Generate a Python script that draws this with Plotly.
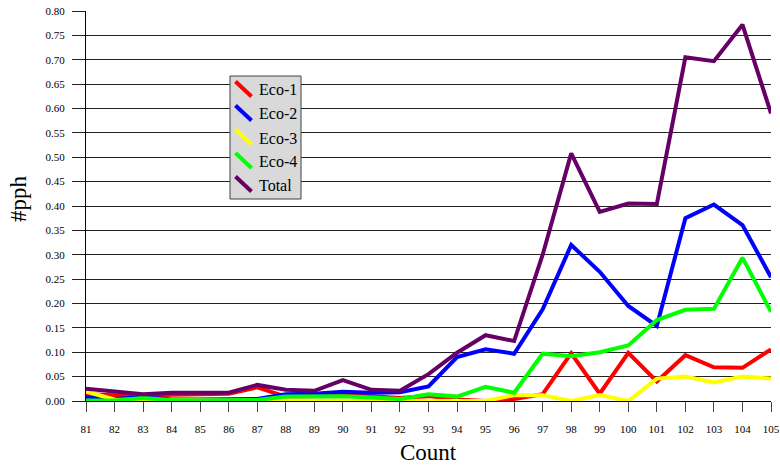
import plotly.graph_objects as go

# Count index on the x axis
count = [81, 82, 83, 84, 85, 86, 87, 88, 89, 90, 91, 92, 93,
         94, 95, 96, 97, 98, 99, 100, 101, 102, 103, 104, 105]

# #pph per ecosystem and in total
eco1 = [0.014, 0.012, 0.010, 0.013, 0.014, 0.015, 0.028, 0.009, 0.010, 0.014, 0.010, 0.006, 0.010,
        0.003, 0.000, 0.004, 0.014, 0.098, 0.015, 0.099, 0.040, 0.094, 0.069, 0.068, 0.106]
eco2 = [0.007, 0.004, 0.008, 0.003, 0.003, 0.003, 0.004, 0.014, 0.015, 0.019, 0.017, 0.018, 0.030,
        0.090, 0.106, 0.097, 0.188, 0.320, 0.265, 0.195, 0.154, 0.375, 0.403, 0.361, 0.254]
eco3 = [0.019, 0.003, 0.002, 0.001, 0.001, 0.001, 0.001, 0.001, 0.001, 0.001, 0.001, 0.001, 0.002,
        0.000, 0.000, 0.012, 0.012, 0.000, 0.012, 0.000, 0.046, 0.050, 0.038, 0.050, 0.046]
eco4 = [0.001, 0.001, 0.006, 0.002, 0.001, 0.002, 0.002, 0.009, 0.010, 0.010, 0.007, 0.004, 0.014,
        0.009, 0.029, 0.017, 0.097, 0.092, 0.100, 0.114, 0.166, 0.187, 0.189, 0.294, 0.183]
total = [0.025, 0.020, 0.014, 0.017, 0.016, 0.017, 0.033, 0.023, 0.021, 0.043, 0.023, 0.021, 0.055,
         0.099, 0.135, 0.123, 0.300, 0.508, 0.388, 0.405, 0.404, 0.705, 0.697, 0.772, 0.590]

series_names = ["Eco-1", "Eco-2", "Eco-3", "Eco-4", "Total"]
series_values = [eco1, eco2, eco3, eco4, total]
series_colors = ["#FF0000", "#0000FF", "#FFFF00", "#00FF00", "#660066"]

FONT = "Liberation Serif, Times New Roman, serif"

W, H = 780, 468
L, R, T, B = 86, 9, 11, 67
PW, PH = W - L - R, H - T - B


def px_x(x):
    return (x - L) / PW


def px_y(y):
    return (H - B - y) / PH


fig = go.Figure()
for name, vals, col in zip(series_names, series_values, series_colors):
    fig.add_trace(go.Scatter(
        x=count, y=vals, name=name, mode="lines",
        line=dict(color=col, width=4), showlegend=False,
    ))

# Boxed legend with slanted line keys
shapes = [dict(type="rect", xref="paper", yref="paper",
               x0=px_x(230), x1=px_x(301), y0=px_y(199), y1=px_y(76),
               fillcolor="#D9D9D9", line=dict(color="#404040", width=1), layer="above")]
annotations = []
row_y = [89, 113, 137, 160.5, 184]
for name, col, yc in zip(series_names, series_colors, row_y):
    shapes.append(dict(type="line", xref="paper", yref="paper",
                       x0=px_x(235.5), x1=px_x(251.5), y0=px_y(yc - 7.5), y1=px_y(yc + 7.5),
                       line=dict(color=col, width=4), layer="above"))
    annotations.append(dict(text=name, xref="paper", yref="paper",
                            x=px_x(256.5), y=px_y(yc + 1), xanchor="left", yanchor="middle",
                            showarrow=False, font=dict(family=FONT, size=16, color="#000")))

annotations.append(dict(text="Count", xref="paper", yref="paper",
                        x=px_x(428), y=px_y(452), xanchor="center", yanchor="middle",
                        showarrow=False, font=dict(family=FONT, size=23, color="#000")))
annotations.append(dict(text="#pph", xref="paper", yref="paper", textangle=-90,
                        x=px_x(19), y=px_y(199), xanchor="center", yanchor="middle",
                        showarrow=False, font=dict(family=FONT, size=23, color="#000")))

fig.update_layout(
    width=W, height=H,
    margin=dict(l=L, r=R, t=T, b=B, autoexpand=False),
    paper_bgcolor="white", plot_bgcolor="white",
    font=dict(family=FONT, size=11, color="#000"),
    shapes=shapes, annotations=annotations,
    xaxis=dict(range=[81, 105], tickmode="linear", tick0=81, dtick=1, automargin=False,
               showgrid=False, zeroline=False, showline=True, linecolor="#000", linewidth=1,
               ticks="outside", ticklen=10, tickcolor="#444", tickwidth=1,
               ticklabelstandoff=8, tickfont=dict(family=FONT, size=11)),
    yaxis=dict(range=[0, 0.8], tickmode="linear", tick0=0, dtick=0.05, tickformat=".2f",
               automargin=False,
               showgrid=True, gridcolor="#222", gridwidth=1, zeroline=False,
               showline=True, linecolor="#000", linewidth=1,
               ticks="outside", ticklen=13, tickcolor="#222", tickwidth=1,
               ticklabelstandoff=5, tickfont=dict(family=FONT, size=11)),
)

fig.write_html("out.html")
